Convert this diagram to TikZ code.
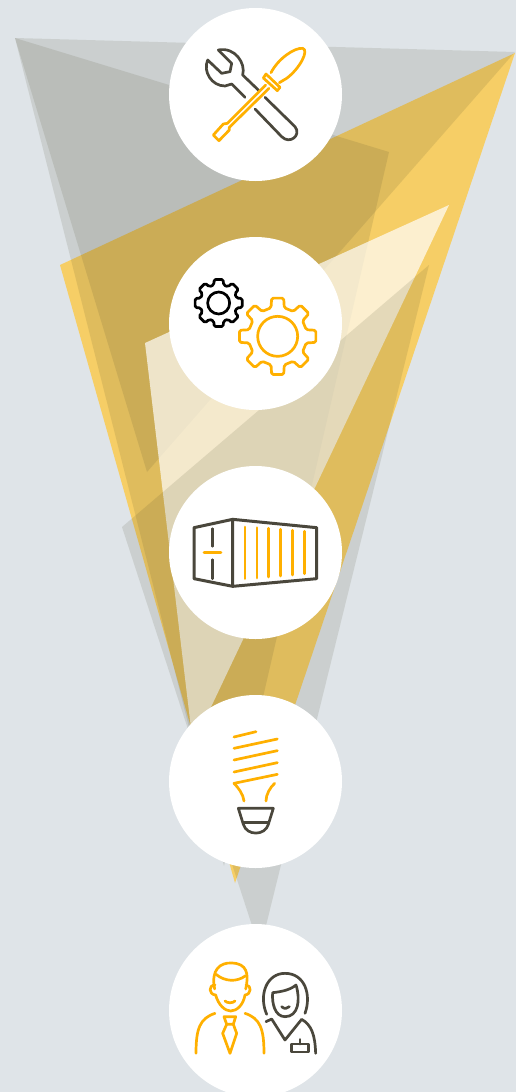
\documentclass[tikz,border=0pt]{standalone}
\definecolor{bgc}{HTML}{DFE4E8}
\definecolor{yel}{HTML}{F6CE66}
\definecolor{gry}{HTML}{484728}
\definecolor{ink}{HTML}{4A473C}
\definecolor{amb}{HTML}{FFB000}
\newcommand{\geartrace}[8]{% cx cy outer root halfOuter halfRoot n, style
  \draw[#8,rounded corners=1.6pt] ({#1+#4*sin(-#6)},{#2-#4*cos(-#6)})
   \foreach \k in {1,...,#7}{
     -- ({#1+#3*sin(360/#7*(\k-1)-#5)},{#2-#3*cos(360/#7*(\k-1)-#5)})
     -- ({#1+#3*sin(360/#7*(\k-1)+#5)},{#2-#3*cos(360/#7*(\k-1)+#5)})
     -- ({#1+#4*sin(360/#7*(\k-1)+#6)},{#2-#4*cos(360/#7*(\k-1)+#6)})
     -- ({#1+#4*sin(360/#7*\k-#6)},{#2-#4*cos(360/#7*\k-#6)})
   } -- cycle;
}
\tikzset{
  disc/.style={circle,fill=white,draw=none,minimum size=173pt,inner sep=0pt},
  ylay/.style={fill=yel},
  glay/.style={fill=gry,fill opacity=.13},
  wlay/.style={fill=white,fill opacity=.686},
  zoomed/.style={x=.33333pt,y=-.33333pt},
  inkline/.style={draw=ink,line width=2.7pt,line cap=round,line join=round},
  ambline/.style={draw=amb,line width=2.7pt,line cap=round,line join=round},
}
\begin{document}
\begin{tikzpicture}[x=1pt,y=-1pt]
\useasboundingbox (0,0) rectangle (516,1092);
\clip (0,0) rectangle (516,1092);
\fill[bgc] (0,0) rectangle (516,1092);
% translucent wedges
\fill[ylay] (60,265) -- (515,53) -- (235,883) -- cycle;
\fill[glay] (15,38) -- (515,52) -- (147,472) -- cycle;
\fill[glay] (15,38) -- (389,152) -- (224,866) -- cycle;
\fill[wlay] (449,205) -- (145,343) -- (193,745) -- cycle;
\fill[glay] (429,265) -- (122,527) -- (260,950) -- cycle;
% discs
\node[disc] (d1) at (255.5,94.5) {};
\node[disc] (d2) at (255.5,323.5) {};
\node[disc] (d3) at (255.5,552.5) {};
\node[disc] (d4) at (255.5,781.5) {};
\node[disc] (d5) at (255.5,1010.5) {};
% tools
\begin{scope}[shift={(170,10)},zoomed]
\draw[inkline] (268,243) -- (218,195) .. controls (228,160) and (195,110) .. (145,120)
  -- (185,160) -- (180,185) -- (155,190) -- (113,150)
  .. controls (98,185) and (125,228) .. (165,228) -- (185,222) -- (225,262);
\draw[inkline] (285,262) -- (375,350) .. controls (395,375) and (360,405) .. (335,380) -- (255,297);
\draw[ambline] (287,225) -- (172,340) -- (160,342) -- (130,375) -- (147,392) -- (178,360) -- (178,352) -- (297,235);
\draw[ambline] (288,192) -- (330,232) -- (322,242) -- (280,204) -- cycle;
\draw[ambline] (303,188) .. controls (325,145) and (375,112) .. (398,115)
  .. controls (418,120) and (390,175) .. (350,205) -- (328,218);
\end{scope}
% gears
\begin{scope}[shift={(170,238)},zoomed]
\geartrace{146}{195}{72}{56}{11}{15}{8}{draw=black,line width=2.7pt,line join=round}
\draw[draw=black,line width=2.7pt] (146,195) circle[radius=33];
\geartrace{323}{295}{116}{88}{9}{13}{8}{ambline}
\draw[ambline] (323,295) circle[radius=60];
\end{scope}
% container
\begin{scope}[shift={(170,467)},zoomed]
\draw[inkline,line width=3pt] (188,157) -- (72,182) -- (72,335) -- (188,358) -- cycle;
\draw[inkline,line width=3pt] (188,157) -- (440,182) -- (440,335) -- (188,358);
\draw[inkline] (127,185) -- (127,238) (127,278) -- (127,335);
\draw[ambline] (102,257) -- (153,257);
\draw[ambline] (225,180) -- (225,335) (261,182) -- (261,333) (296,184) -- (296,330)
  (332,187) -- (332,327) (368,190) -- (368,324) (404,193) -- (404,320);
\end{scope}
% bulb
\begin{scope}[shift={(170,696)},zoomed]
\draw[ambline] (192,123) -- (258,107) (192,157) -- (322,129) (192,192) -- (322,164) (192,228) -- (322,200);
\draw[ambline] (322,235) -- (192,262) .. controls (205,275) and (220,295) .. (222,315);
\draw[ambline] (314,262) .. controls (300,275) and (288,295) .. (288,315);
\draw[inkline] (205,337) -- (310,337) -- (295,385) .. controls (285,420) and (230,420) .. (220,385) -- cycle;
\draw[inkline] (220,380) -- (295,380);
\end{scope}
% people
\begin{scope}[shift={(170,925)},zoomed]
\draw[ambline] (134,192) .. controls (122,135) and (150,112) .. (185,114) .. controls (230,115) and (238,145) .. (227,192);
\draw[ambline] (138,148) .. controls (165,170) and (200,172) .. (227,152);
\draw[ambline] (135,180) .. controls (115,180) and (115,208) .. (137,210) .. controls (145,240) and (165,258) .. (182,258)
  .. controls (200,258) and (220,240) .. (225,210) .. controls (245,208) and (245,180) .. (228,180);
\draw[ambline] (165,228) .. controls (172,235) and (188,235) .. (195,228);
\draw[ambline] (135,265) .. controls (90,280) and (78,310) .. (78,385);
\draw[ambline] (225,265) .. controls (270,280) and (282,310) .. (282,385);
\draw[ambline] (162,275) -- (197,275) -- (190,298) -- (170,298) -- cycle;
\draw[ambline] (170,298) -- (158,325) -- (180,385) -- (200,325) -- (190,298);
\draw[inkline] (290,268) .. controls (265,210) and (290,145) .. (345,145) .. controls (405,145) and (425,210) .. (405,265);
\draw[inkline] (308,203) .. controls (335,200) and (360,195) .. (378,180) .. controls (392,225) and (385,275) .. (345,275)
  .. controls (315,275) and (305,235) .. (308,203) -- cycle;
\draw[inkline] (335,245) .. controls (342,252) and (352,252) .. (358,245);
\draw[inkline] (288,290) -- (305,282) -- (345,345) -- (395,283) .. controls (425,300) and (435,330) .. (437,385);
\draw[inkline] (365,357) rectangle (415,381);
\draw[inkline] (390,343) -- (390,357);
\end{scope}
\end{tikzpicture}
\end{document}
